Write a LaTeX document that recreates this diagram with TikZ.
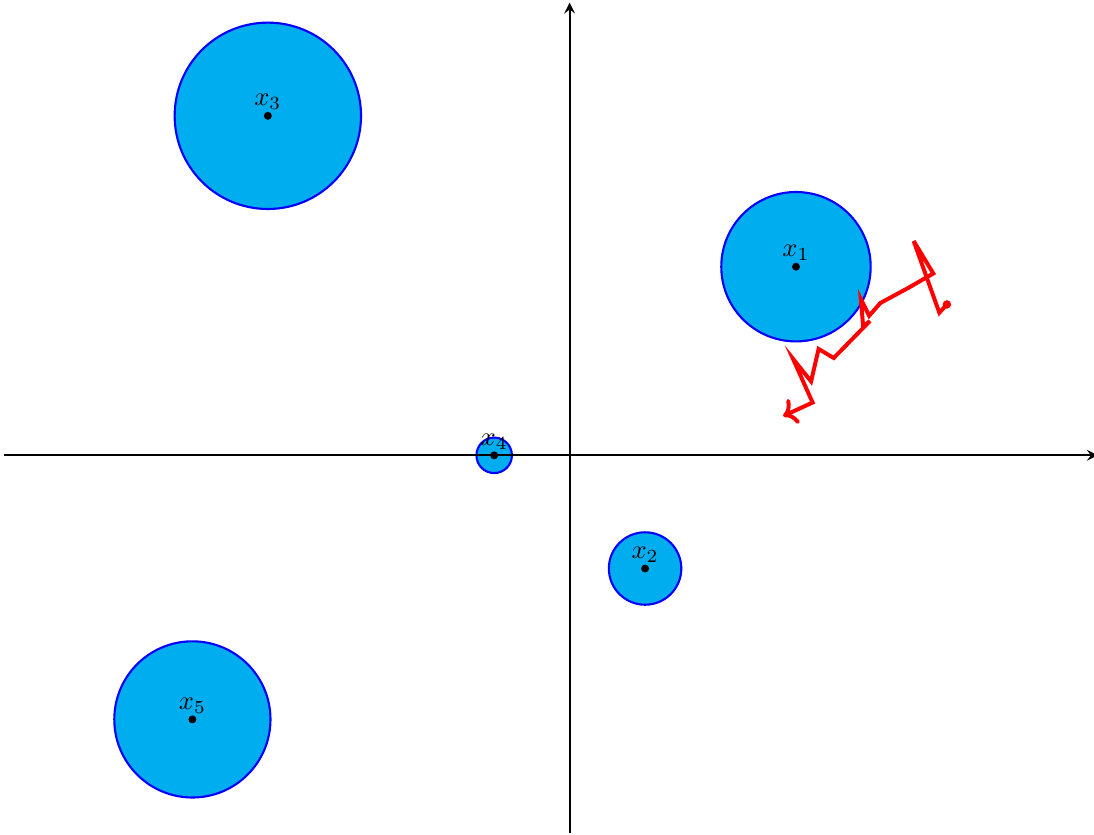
\documentclass[tikz,border=0pt]{standalone}
\usetikzlibrary{arrows.meta}
\definecolor{ballfill}{RGB}{0,174,239}
\tikzset{
  ball/.style={draw=blue, fill=ballfill, thick},
  centre/.style={above, inner sep=2pt},
}
\begin{document}
\begin{tikzpicture}
        \useasboundingbox (-7.55,-5.02) rectangle (6.95,6.035);
        % Centres
        \coordinate (c1) at (3, 2.5);
        \coordinate (c2) at (1, -1.5);
        \coordinate (c3) at (-4, 4.5);
        \coordinate (c4) at (-1, 0);
        \coordinate (c5) at (-5, -3.5);

        % Balls
        \filldraw[ball] (c1) circle (0.99);
        \filldraw[ball] (c2) circle (0.48);
        \filldraw[ball] (c3) circle (1.235);
        \filldraw[ball] (c4) circle (0.235);
        \filldraw[ball] (c5) circle (1.035);

        % Axes
        \coordinate (xl) at (-7.5, 0);
        \coordinate (xr) at (7, 0);
        \coordinate (yb) at (0, -5);
        \coordinate (yt) at (0, 6);
        \draw[-stealth, thick] (xl) -- (xr);
        \draw[-stealth, thick] (yb) -- (yt);

        % Centre points
        \fill (c1) circle (1.5pt);
        \fill (c2) circle (1.5pt);
        \fill (c3) circle (1.5pt);
        \fill (c4) circle (1.5pt);
        \fill (c5) circle (1.5pt);
        \node[centre] (x1) at (c1) {$x_1$};
        \node[centre] (x2) at (c2) {$x_2$};
        \node[centre] (x3) at (c3) {$x_3$};
        \node[centre] (x4) at (c4) {$x_4$};
        \node[centre] (x5) at (c5) {$x_5$};

        % Path
        \coordinate (start) at (5.00, 2.00);
        \fill[red] (start) circle (1.6pt);
        \draw[->, red, line width=1.5pt] (start) -- (4.90, 1.89) -- (4.56, 2.84) -- (4.82, 2.41)
            -- (4.49, 2.22) -- (4.12, 2.02) -- (3.97, 1.85) -- (3.86, 2.07) -- (3.89, 1.71)
            -- (3.98, 1.78) -- (3.50, 1.29) -- (3.30, 1.41) -- (3.20, 0.98) -- (2.96, 1.28)
            -- (3.22, 0.70) -- (2.83, 0.52);
    \end{tikzpicture}
\end{document}
